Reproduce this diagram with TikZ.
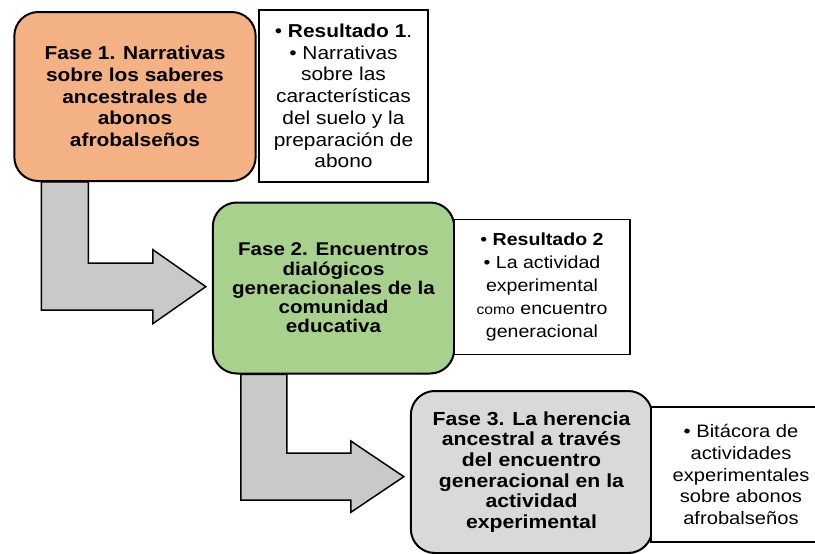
\documentclass[tikz,border=0pt]{standalone}
\usepackage{fontspec}
\setmainfont{Liberation Sans}[FakeStretch=1.12]
\usetikzlibrary{calc,backgrounds}
\definecolor{naranja}{HTML}{F4B183}
\definecolor{verde}{HTML}{A9D18E}
\definecolor{grisfase}{HTML}{D9D9D9}
\definecolor{grisflecha}{HTML}{C9C9C9}

\begin{document}
\begin{tikzpicture}[x=0.75pt, y=-0.75pt,
  fase/.style={draw, line width=1.5pt, rounded corners=18pt, minimum width=181pt, align=center, inner sep=0pt},
  resultado/.style={draw, fill=white, line width=1.1pt, align=center, inner sep=0pt},
  flecha/.style={draw, line width=1.1pt, fill=grisflecha, line join=miter}]
\useasboundingbox (0,0) rectangle (815,554);
\clip (0,0) rectangle (815,554);
\node[fase, fill=naranja, minimum height=126.75pt, font=\fontsize{14}{16.3}\selectfont\bfseries] (f1) at (135,96.5) {Fase 1. Narrativas\\sobre los saberes\\ancestrales de\\abonos\\afrobalseños};
\node[resultado, minimum width=126.75pt, minimum height=129pt, font=\fontsize{14}{16.3}\selectfont] (r1) at (343.5,96) {• \textbf{Resultado 1}.\\• Narrativas\\sobre las\\características\\del suelo y la\\preparación de\\abono};
\node[fase, fill=verde, minimum height=128.25pt, font=\fontsize{13.8}{14.4}\selectfont\bfseries] (f2) at (333.5,288) {Fase 2. Encuentros\\dialógicos\\generacionales de la\\comunidad\\educativa};
\node[resultado, minimum width=132pt, minimum height=101.25pt, font=\fontsize{13.1}{17.25}\selectfont] (r2) at (542,287) {• \textbf{Resultado 2}\\• La actividad\\experimental\\{\fontsize{10.5}{12}\selectfont como} encuentro\\generacional};
\node[fase, fill=grisfase, minimum height=121.5pt, font=\fontsize{14.2}{15.5}\selectfont\bfseries] (f3) at (531.5,472) {Fase 3. La herencia\\ancestral a través\\del encuentro\\generacional en la\\actividad\\experimental};
\node[resultado, minimum width=135pt, minimum height=101.25pt, font=\fontsize{13.5}{16.3}\selectfont] (r3) at (741,474.5) {• Bitácora de\\actividades\\experimentales\\sobre abonos\\afrobalseños};
\begin{scope}[on background layer]
\draw[flecha] ([xshift=21pt]f1.south west) -- ([xshift=56.25pt]f1.south west) |- ($([xshift=-4.5pt,yshift=1pt]f2.west)+(-39.75pt,17.6pt)$) -- ++(0,10.15pt) -- ([xshift=-4.5pt,yshift=1pt]f2.west) -- ++(-39.75pt,-27.75pt) -- ++(0,10.15pt) -| ([xshift=21pt]f1.south west) -- cycle;
\draw[flecha] ([xshift=21.75pt]f2.south west) -- ([xshift=56.25pt]f2.south west) |- ($([xshift=-4.5pt,yshift=-3.5pt]f3.west)+(-39.75pt,17.6pt)$) -- ++(0,9.15pt) -- ([xshift=-4.5pt,yshift=-3.5pt]f3.west) -- ++(-39.75pt,-26.75pt) -- ++(0,9.15pt) -| ([xshift=21.75pt]f2.south west) -- cycle;
\end{scope}
\end{tikzpicture}
\end{document}
